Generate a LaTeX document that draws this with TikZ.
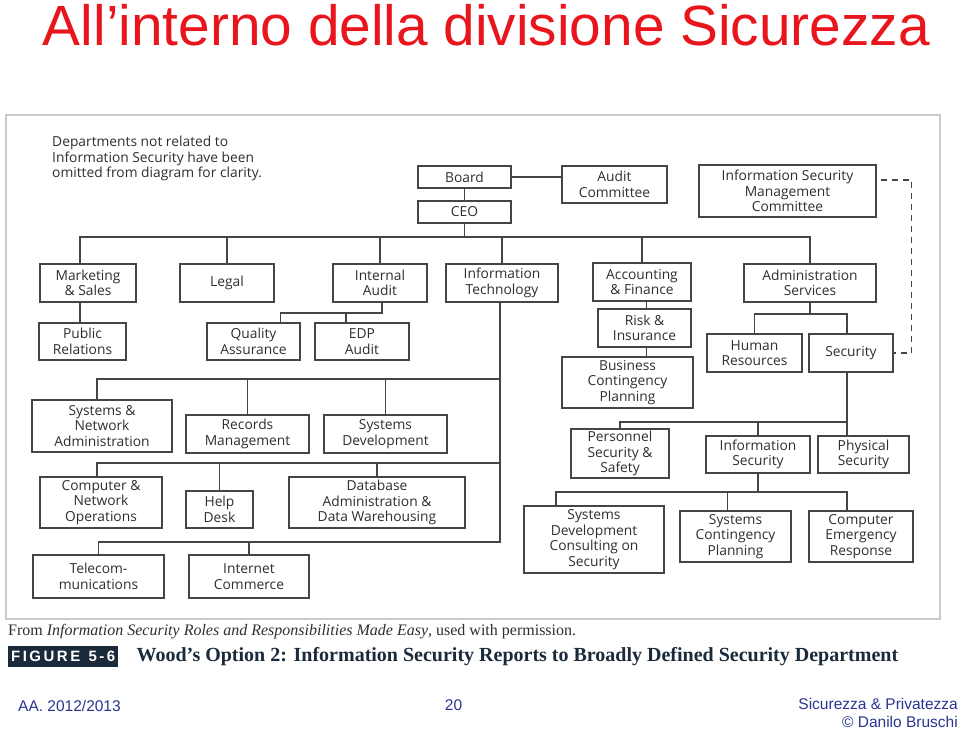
\documentclass[tikz,border=0pt]{standalone}
\usepackage{fontspec}
\setmainfont{Open Sans}
\newfontfamily\arialfont{Liberation Sans}
\newfontfamily\timesfont{Liberation Serif}
\usetikzlibrary{positioning}

\definecolor{boxgray}{HTML}{454545}
\definecolor{textgray}{HTML}{2E2E2E}
\definecolor{panelgray}{HTML}{C8CBD2}
\definecolor{navy}{HTML}{1B2A3B}
\definecolor{footblue}{HTML}{2A3590}
\definecolor{titlered}{HTML}{E8161C}

\tikzset{
  unit/.style={draw=boxgray, line width=1.2pt, align=center, inner sep=0pt,
    text=textgray, font=\fontsize{13.8}{15.5}\selectfont},
  link/.style={color=boxgray, line width=1.2pt},
  footer/.style={inner sep=0pt, text=footblue, font=\arialfont\fontsize{15.5}{18}\selectfont},
}

\begin{document}
\begin{tikzpicture}[x=1pt, y=-1pt]
  \useasboundingbox (0,0) rectangle (960,731);
  \node[anchor=base, text=titlered, font=\arialfont\fontsize{56.8}{60}\selectfont] (title) at (486.5,45) {All’interno della divisione Sicurezza};

  % frame of the figure
  \draw[panelgray, line width=2.5pt] (6,115) rectangle (940,619);
  \node[anchor=north west, align=left, inner sep=0pt, text=textgray, font=\fontsize{13.8}{15.5}\selectfont] (note) at (52,136)
    {Departments not related to\\Information Security have been\\omitted from diagram for clarity.};

  % top
  \node[unit, minimum width=93, minimum height=22] (board) at (464.5,177) {Board};
  \node[unit, minimum width=93, minimum height=22] (ceo) at (464.5,212) {CEO};
  \node[unit, minimum width=105, minimum height=37] (auditc) at (614.5,184.5) {Audit\\Committee};
  \node[unit, minimum width=177, minimum height=52] (ismc) at (787.5,191) {Information Security\\Management\\Committee};

  % departments
  \node[unit, minimum width=96, minimum height=38] (mkt) at (88,283) {Marketing\\\& Sales};
  \node[unit, minimum width=94, minimum height=38] (legal) at (227,283) {Legal};
  \node[unit, minimum width=94, minimum height=38] (iaudit) at (380,283) {Internal\\Audit};
  \node[unit, minimum width=112, minimum height=38] (itech) at (502,283) {Information\\Technology};
  \node[unit, minimum width=98, minimum height=38] (acc) at (642,282) {Accounting\\\& Finance};
  \node[unit, minimum width=132, minimum height=38] (admin) at (810,283) {Administration\\Services};

  \node[unit, minimum width=87, minimum height=37] (pr) at (82.5,341.5) {Public\\Relations};
  \node[unit, minimum width=93, minimum height=37] (qa) at (253.5,341.5) {Quality\\Assurance};
  \node[unit, minimum width=94, minimum height=37] (edp) at (362,341.5) {EDP\\Audit};
  \node[unit, minimum width=93, minimum height=38] (ri) at (644.5,328) {Risk \&\\Insurance};
  \node[unit, minimum width=131, minimum height=51] (bcp) at (627.5,382.5) {Business\\Contingency\\Planning};
  \node[unit, minimum width=95, minimum height=38] (hr) at (754.5,353) {Human\\Resources};
  \node[unit, minimum width=84, minimum height=38] (sec) at (851,353) {Security};

  % under information technology
  \node[unit, minimum width=140, minimum height=52] (snadmin) at (102,426) {Systems \&\\Network\\Administration};
  \node[unit, minimum width=123, minimum height=38] (recm) at (247.5,434) {Records\\Management};
  \node[unit, minimum width=123, minimum height=38] (sysdev) at (385.5,434) {Systems\\Development};
  \node[unit, minimum width=122, minimum height=51] (cno) at (101,502.5) {Computer \&\\Network\\Operations};
  \node[unit, minimum width=67, minimum height=37] (help) at (219.5,509.5) {Help\\Desk};
  \node[unit, minimum width=176, minimum height=51] (dbadm) at (377,502.5) {Database\\Administration \&\\Data Warehousing};
  \node[unit, minimum width=131, minimum height=43] (tele) at (98.5,576.5) {Telecom-\\munications};
  \node[unit, minimum width=120, minimum height=43] (inetc) at (249,576.5) {Internet\\Commerce};

  % under security
  \node[unit, minimum width=98, minimum height=49] (pss) at (620,453.5) {Personnel\\Security \&\\Safety};
  \node[unit, minimum width=104, minimum height=37] (infosec) at (758,454.5) {Information\\Security};
  \node[unit, minimum width=91, minimum height=37] (physec) at (863.5,454.5) {Physical\\Security};
  \node[unit, minimum width=140, minimum height=67] (sdcs) at (594,539.5) {Systems\\Development\\Consulting on\\Security};
  \node[unit, minimum width=111, minimum height=51] (scp) at (735.5,536.5) {Systems\\Contingency\\Planning};
  \node[unit, minimum width=104, minimum height=51] (cer) at (861,536.5) {Computer\\Emergency\\Response};

  % buses
  \coordinate (bus1) at (0,237);
  \coordinate (bus2) at (0,313);
  \coordinate (bus3) at (0,379);
  \coordinate (bus4) at (0,463);
  \coordinate (bus5) at (0,542);
  \coordinate (bus6) at (0,314);
  \coordinate (bus7) at (0,422);
  \coordinate (bus8) at (0,492);

  \draw[link] (board) -- (ceo);
  \draw[link] (board.east) -- (board.east -| auditc.west);
  \draw[link] (ceo.south) -- (ceo.south |- bus1);
  \draw[link] ([xshift=-8pt]mkt.north) |- (admin.north |- bus1) -- (admin.north);
  \foreach \n in {legal,iaudit,itech,acc}
    \draw[link] (\n.north) -- (\n.north |- bus1);

  \draw[link] ([xshift=-8pt]mkt.south) -- ([xshift=-8pt]mkt.south |- pr.north);
  \draw[link] ([xshift=2pt]iaudit.south) -- ([xshift=2pt]iaudit.south |- bus2) -| ([xshift=27pt]qa.north);
  \draw[link] ([xshift=-16pt]edp.north) -- ([xshift=-16pt]edp.north |- bus2);
  \draw[link] ([xshift=2pt]ri.north) -- ([xshift=2pt]ri.north |- acc.south);
  \draw[link] ([xshift=2pt]ri.south) -- ([xshift=2pt]ri.south |- bcp.north);
  \draw[link] (admin.south) -- (admin.south |- bus6);
  \draw[link] (hr.north) |- ([xshift=-4pt]sec.north |- bus6) -- ([xshift=-4pt]sec.north);

  \draw[link] ([xshift=-2pt]itech.south) -- ([xshift=-2pt]itech.south |- bus5) -| (tele.north);
  \draw[link] ([xshift=-5pt]snadmin.north) |- ([xshift=-2pt]itech.south |- bus3);
  \draw[link] ([xshift=-4pt]cno.north) |- ([xshift=-2pt]itech.south |- bus4);
  \foreach \n/\b in {recm/bus3, sysdev/bus3, help/bus4, dbadm/bus4, inetc/bus5}
    \draw[link] (\n.north) -- (\n.north |- \b);

  \draw[link] ([xshift=-4pt]sec.south) -- ([xshift=-4pt]sec.south |- physec.north);
  \draw[link] (pss.north) |- ([xshift=-4pt]sec.south |- bus7);
  \draw[link] (infosec.north) -- (infosec.north |- bus7);
  \draw[link] (infosec.south) -- (infosec.south |- bus8);
  \draw[link] ([xshift=-38pt]sdcs.north) |- ([xshift=-14pt]cer.north |- bus8) -- ([xshift=-14pt]cer.north);
  \draw[link] ([xshift=-8pt]scp.north) -- ([xshift=-8pt]scp.north |- bus8);

  % dashed reporting line
  \draw[link, dash pattern=on 6pt off 5pt] ([xshift=4pt,yshift=11pt]ismc.east) -- ++(31,0) |- (sec.east);

  % caption
  \node[anchor=base west, inner sep=0pt, text=textgray, font=\timesfont\fontsize{16}{18}\selectfont] (source) at (8,635)
    {From \textit{Information Security Roles and Responsibilities Made Easy}, used with permission.};
  \node[anchor=west, fill=navy, text=white, minimum width=110, minimum height=21, inner sep=0pt,
    font=\arialfont\bfseries\fontsize{15}{16}\selectfont] (fig) at (8,656.5) {F\,I\,G\,U\,R\,E\ \ 5\,-\,6};
  \node[right=18pt of fig, inner sep=0pt, text=navy, font=\timesfont\bfseries\fontsize{20}{22}\selectfont] (figtitle)
    {Wood’s Option 2: Information Security Reports to Broadly Defined Security Department};

  % footer
  \node[anchor=base west, footer] (year) at (18,711) {AA. 2012/2013};
  \node[anchor=base, footer] (page) at (453.5,710) {20};
  \node[anchor=base east, footer] (course) at (958,709) {Sicurezza \& Privatezza};
  \node[anchor=base east, footer] (author) at (958,727) {© Danilo Bruschi};
\end{tikzpicture}
\end{document}
